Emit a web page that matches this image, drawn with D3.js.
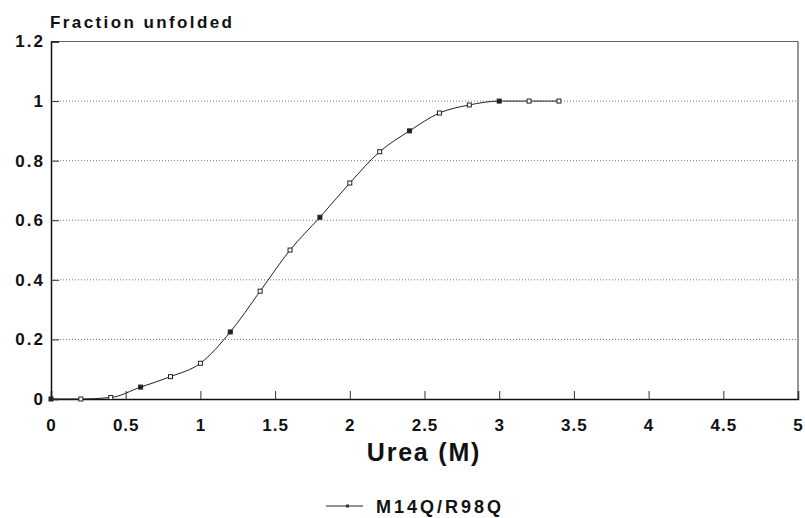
<!DOCTYPE html>
<html><head><meta charset="utf-8">
<script src="https://cdn.jsdelivr.net/npm/d3@7"></script>
<style>body{margin:0;background:#fff}svg{display:block}text{font-family:"Liberation Sans",Arial,sans-serif;font-weight:bold;fill:#111}</style>
</head><body><svg id="c" width="805" height="518"></svg>
<script>
const urea = [0, 0.2, 0.4, 0.6, 0.8, 1.0, 1.2, 1.4, 1.6, 1.8, 2.0, 2.2, 2.4, 2.6, 2.8, 3.0, 3.2, 3.4];
const fraction = [0, 0, 0.005, 0.04, 0.075, 0.12, 0.225, 0.362, 0.5, 0.61, 0.725, 0.83, 0.9, 0.96, 0.987, 1.0, 1.0, 1.0];
const xTicks = [0, 0.5, 1, 1.5, 2, 2.5, 3, 3.5, 4, 4.5, 5];
const yTicks = [0, 0.2, 0.4, 0.6, 0.8, 1, 1.2];
const seriesName = "M14Q/R98Q";

const svg = d3.select("#c");
const x = d3.scaleLinear().domain([0, 5]).range([51, 798]);
const y = d3.scaleLinear().domain([0, 1.2]).range([399, 41.5]);

// gridlines
svg.append("g").selectAll("line").data(yTicks.filter(d => d > 0 && d < 1.2)).join("line")
  .attr("x1", x(0)).attr("x2", x(5)).attr("y1", d => y(d)).attr("y2", d => y(d))
  .attr("stroke", "#777").attr("stroke-width", 1).attr("stroke-dasharray", "1,2");

// frame
svg.append("line").attr("x1", x(0)).attr("x2", x(5)).attr("y1", y(1.2)).attr("y2", y(1.2)).attr("stroke", "#666").attr("stroke-width", 1);
svg.append("line").attr("x1", x(5)).attr("x2", x(5)).attr("y1", y(1.2)).attr("y2", y(0)).attr("stroke", "#333").attr("stroke-width", 1);

const fam = '"Liberation Sans",Arial,sans-serif';
const xAxis = svg.append("g").attr("transform", `translate(0,${y(0)})`)
  .call(d3.axisBottom(x).tickValues(xTicks).tickSize(-8).tickPadding(20).tickFormat(d3.format("")));
xAxis.select(".domain").attr("stroke", "#111").attr("stroke-width", 1.5);
xAxis.selectAll(".tick line").attr("stroke", "#333");
xAxis.selectAll("text").attr("font-size", 17).attr("dy", "0.71em").style("letter-spacing", "1px");

const yAxis = svg.append("g").attr("transform", `translate(${x(0)},0)`)
  .call(d3.axisLeft(y).tickValues(yTicks).tickSize(-8).tickPadding(8).tickFormat(d3.format("")));
yAxis.select(".domain").attr("stroke", "#111").attr("stroke-width", 1.5);
yAxis.selectAll(".tick line").attr("stroke", "#333");
yAxis.selectAll("text").attr("font-size", 17).style("letter-spacing", "2px").attr("dx", "2px");
svg.selectAll(".tick text").attr("fill", "#111").style("font-family", fam).style("font-weight", "bold");

// curve
const pts = urea.map((u, i) => [u, fraction[i]]);
const line = d3.line().x(d => x(d[0])).y(d => y(d[1])).curve(d3.curveMonotoneX);
svg.append("path").datum(pts).attr("d", line).attr("fill", "none").attr("stroke", "#222").attr("stroke-width", 1);
svg.append("g").selectAll("rect").data(pts).join("rect")
  .attr("x", d => x(d[0]) - 2).attr("y", d => y(d[1]) - 2).attr("width", 4).attr("height", 4)
  .attr("fill", (d, i) => i % 3 === 0 ? "#222" : "#fff").attr("stroke", "#222").attr("stroke-width", 1);

// titles
svg.append("text").attr("x", 50).attr("y", 28).attr("font-size", 17).style("letter-spacing", "2.4px").text("Fraction unfolded");
svg.append("text").attr("x", 424).attr("y", 461).attr("text-anchor", "middle").attr("font-size", 25).style("letter-spacing", "1.8px").text("Urea (M)");

// legend
svg.append("line").attr("x1", 326).attr("x2", 363).attr("y1", 506).attr("y2", 506).attr("stroke", "#222");
svg.append("rect").attr("x", 346).attr("y", 504.5).attr("width", 3).attr("height", 3).attr("fill", "#333");
svg.append("text").attr("x", 376).attr("y", 513).attr("font-size", 18).style("letter-spacing", "3px").text(seriesName);
</script></body></html>
